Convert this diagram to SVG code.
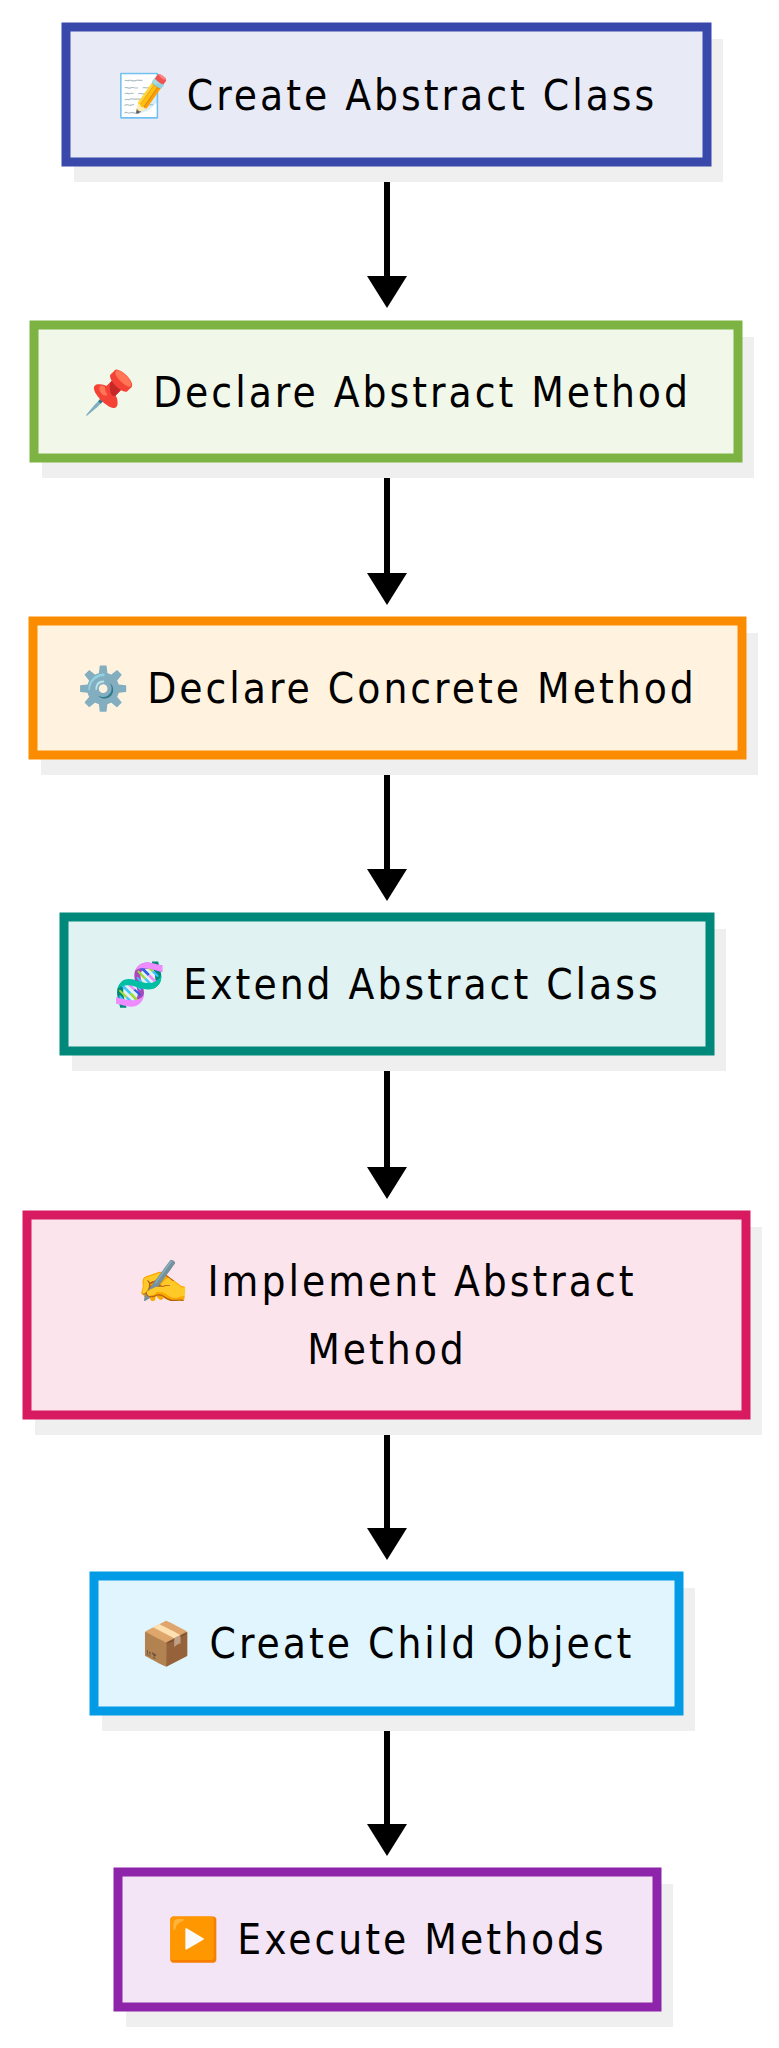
<svg xmlns="http://www.w3.org/2000/svg" width="779" height="2048" viewBox="0 0 779 2048">
<style>
.sh{fill:#efefef}
.t{font-family:"DejaVu Sans Condensed","DejaVu Sans",sans-serif;font-size:42px;letter-spacing:3px;fill:#000;text-anchor:middle;dominant-baseline:central}
.b{stroke-width:9}
.c line{stroke:#000;stroke-width:6}
</style>
<defs><marker id="ah" markerWidth="32" markerHeight="40" refX="4" refY="20" markerUnits="userSpaceOnUse" orient="auto" viewBox="0 0 32 40"><path d="M0,0 L32,20 L0,40 Z" fill="#000"/></marker></defs>
<g class="c">
<line x1="387" y1="166" x2="387" y2="280" marker-end="url(#ah)"/>
<line x1="387" y1="462" x2="387" y2="577" marker-end="url(#ah)"/>
<line x1="387" y1="759" x2="387" y2="873" marker-end="url(#ah)"/>
<line x1="387" y1="1055" x2="387" y2="1171" marker-end="url(#ah)"/>
<line x1="387" y1="1419" x2="387" y2="1532" marker-end="url(#ah)"/>
<line x1="387" y1="1715" x2="387" y2="1828" marker-end="url(#ah)"/>
</g>
<g id="n1"><rect class="sh" x="74" y="39" width="649" height="143"/><rect class="b" x="66" y="27" width="641" height="135" fill="#e8eaf6" stroke="#3949ab"/><text class="t" x="387" y="95">📝 Create Abstract Class</text></g>
<g id="n2"><rect class="sh" x="42" y="337" width="712" height="141"/><rect class="b" x="34" y="325" width="704" height="133" fill="#f1f8e9" stroke="#7cb342"/><text class="t" x="387" y="392">📌 Declare Abstract Method</text></g>
<g id="n3"><rect class="sh" x="41" y="633" width="717" height="142"/><rect class="b" x="33" y="621" width="709" height="134" fill="#fff3e0" stroke="#fb8c00"/><text class="t" x="387" y="688">⚙️ Declare Concrete Method</text></g>
<g id="n4"><rect class="sh" x="72" y="929" width="654" height="142"/><rect class="b" x="64" y="917" width="646" height="134" fill="#e0f2f1" stroke="#00897b"/><text class="t" x="387" y="984">🧬 Extend Abstract Class</text></g>
<g id="n5"><rect class="sh" x="35" y="1227" width="727" height="208"/><rect class="b" x="27" y="1215" width="719" height="200" fill="#fce4ec" stroke="#d81b60"/><text class="t" x="387" y="1281">✍️ Implement Abstract</text><text class="t" x="387" y="1349">Method</text></g>
<g id="n6"><rect class="sh" x="102" y="1588" width="593" height="143"/><rect class="b" x="94" y="1576" width="585" height="135" fill="#e1f5fe" stroke="#039be5"/><text class="t" x="387" y="1643">📦 Create Child Object</text></g>
<g id="n7"><rect class="sh" x="126" y="1884" width="547" height="143"/><rect class="b" x="118" y="1872" width="539" height="135" fill="#f3e5f5" stroke="#8e24aa"/><text class="t" x="387" y="1939">▶️ Execute Methods</text></g>
</svg>
